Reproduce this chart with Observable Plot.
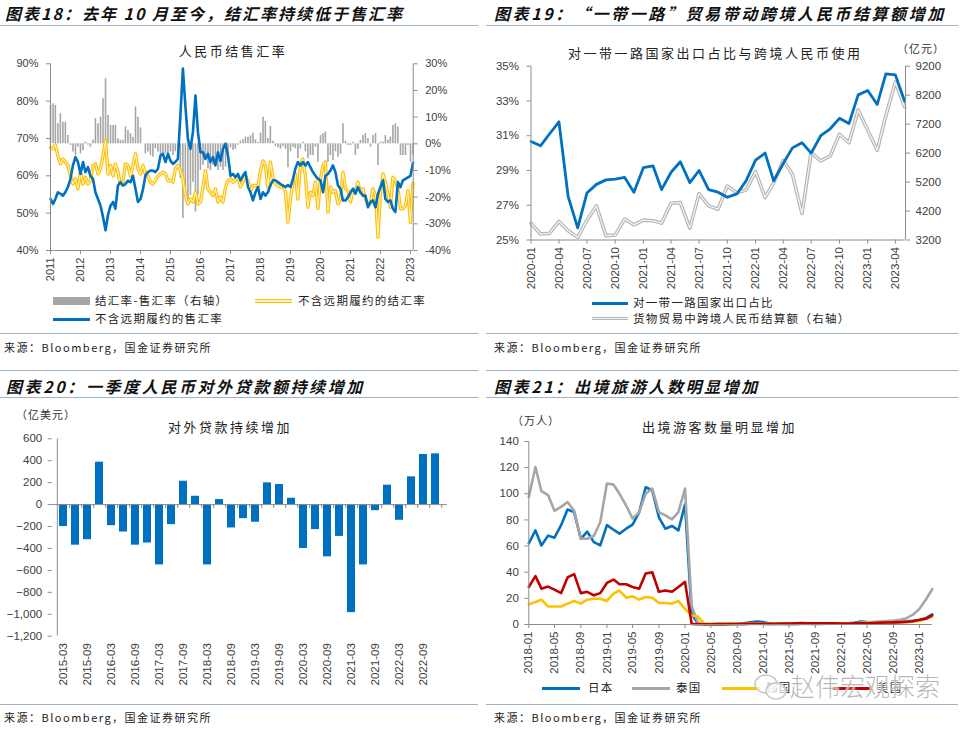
<!DOCTYPE html>
<html><head><meta charset="utf-8">
<script src="https://cdn.jsdelivr.net/npm/d3@7"></script>
<script src="https://cdn.jsdelivr.net/npm/@observablehq/plot@0.6"></script>
<style>
body{margin:0;background:#fff;width:960px;height:729px;position:relative;overflow:hidden;font-family:"Noto Sans CJK SC",sans-serif;color:#222}
.abs{position:absolute;white-space:nowrap;line-height:1}
.sec{font-weight:bold;font-style:italic;font-size:16px;letter-spacing:2.6px;color:#111}
.rule{position:absolute;height:0;border-top:1.5px solid #9db3c9}
.src{font-size:11px;letter-spacing:1.5px;color:#222}
.ct{font-size:13px;letter-spacing:2.5px;color:#222}
.leg{font-size:11.5px;letter-spacing:1.3px;color:#222}
.unit{font-size:11px;letter-spacing:1px;color:#333}
.plot{position:absolute}
</style></head><body>
<div id="p1" class="plot" style="left:0;top:0"></div>
<div id="p2" class="plot" style="left:480px;top:0"></div>
<div id="p3" class="plot" style="left:0;top:365px"></div>
<div id="p4" class="plot" style="left:480px;top:365px"></div>

<!-- panel 1 text -->
<div class="abs sec" style="left:5px;top:5px;letter-spacing:2px">图表18：去年 10 月至今，结汇率持续低于售汇率</div>
<div class="rule" style="left:0;top:25px;width:478px"></div>
<div class="abs ct" style="left:233px;top:44px;transform:translateX(-50%)">人民币结售汇率</div>
<div class="abs" style="left:53px;top:297px;width:37px;height:8px;background:#a6a6a6"></div>
<div class="abs leg" style="left:95px;top:295px">结汇率-售汇率（右轴）</div>
<div class="abs" style="left:255px;top:299px;width:37px;height:1.5px;background:#FFF1BF;border-top:1.5px solid #FFC000;border-bottom:1.5px solid #FFC000"></div>
<div class="abs leg" style="left:298px;top:295px">不含远期履约的结汇率</div>
<div class="abs" style="left:53px;top:318px;width:37px;height:2.6px;background:#0070C0"></div>
<div class="abs leg" style="left:95px;top:313px">不含远期履约的售汇率</div>
<div class="rule" style="left:0;top:333px;width:478px"></div>
<div class="abs src" style="left:4px;top:342px">来源：Bloomberg，国金证券研究所</div>

<!-- panel 2 text -->
<div class="abs sec" style="left:494px;top:5px">图表19：“一带一路”贸易带动跨境人民币结算额增加</div>
<div class="rule" style="left:486px;top:25px;width:472px"></div>
<div class="abs ct" style="left:568px;top:46px">对一带一路国家出口占比与跨境人民币使用</div>
<div class="abs unit" style="left:897px;top:43px">（亿元）</div>
<div class="abs" style="left:592px;top:302px;width:36px;height:2.6px;background:#0070C0"></div>
<div class="abs leg" style="left:633px;top:297px">对一带一路国家出口占比</div>
<div class="abs" style="left:592px;top:317px;width:36px;height:1.4px;background:#f4f4f4;border-top:1.5px solid #b5b5b5;border-bottom:1.5px solid #b5b5b5"></div>
<div class="abs leg" style="left:633px;top:313px">货物贸易中跨境人民币结算额（右轴）</div>
<div class="rule" style="left:486px;top:333px;width:472px"></div>
<div class="abs src" style="left:494px;top:342px">来源：Bloomberg，国金证券研究所</div>

<!-- panel 3 text -->
<div class="rule" style="left:0;top:370px;width:478px"></div>
<div class="abs sec" style="left:6px;top:378px">图表20：一季度人民币对外贷款额持续增加</div>
<div class="rule" style="left:0;top:397px;width:478px"></div>
<div class="abs unit" style="left:16px;top:409px">（亿美元）</div>
<div class="abs ct" style="left:230px;top:420px;transform:translateX(-50%)">对外贷款持续增加</div>
<div class="rule" style="left:0;top:704px;width:478px"></div>
<div class="abs src" style="left:4px;top:712px">来源：Bloomberg，国金证券研究所</div>

<!-- panel 4 text -->
<div class="rule" style="left:486px;top:370px;width:472px"></div>
<div class="abs sec" style="left:494px;top:378px">图表21：出境旅游人数明显增加</div>
<div class="rule" style="left:486px;top:397px;width:472px"></div>
<div class="abs unit" style="left:512px;top:415px">（万人）</div>
<div class="abs ct" style="left:642px;top:420px">出境游客数量明显增加</div>
<div class="abs" style="left:542px;top:687px;width:38px;height:2.6px;background:#0070C0"></div>
<div class="abs leg" style="left:588px;top:682px">日本</div>
<div class="abs" style="left:632px;top:687px;width:38px;height:2.6px;background:#A6A6A6"></div>
<div class="abs leg" style="left:676px;top:682px">泰国</div>
<div class="abs" style="left:722px;top:687px;width:38px;height:2.6px;background:#FFC000"></div>
<div class="abs leg" style="left:766px;top:682px">韩国</div>
<div class="abs" style="left:833px;top:687px;width:38px;height:2.6px;background:#C00000"></div>
<div class="abs leg" style="left:877px;top:682px">美国</div>
<svg class="abs" style="left:752px;top:672px" width="40" height="32"><ellipse cx="14" cy="12" rx="11" ry="9" fill="rgba(255,255,255,0.7)" stroke="#c8c8c8" stroke-width="1.5"/><ellipse cx="24" cy="19" rx="10" ry="8" fill="rgba(255,255,255,0.7)" stroke="#c8c8c8" stroke-width="1.5"/></svg>
<div class="abs" style="left:790px;top:673px;font-size:25px;font-weight:300;color:rgba(160,160,160,0.75);text-shadow:0 0 2px #fff,0 0 2px #fff;letter-spacing:0px">赵伟宏观探索</div>
<div class="rule" style="left:486px;top:704px;width:472px"></div>
<div class="abs src" style="left:494px;top:712px">来源：Bloomberg，国金证券研究所</div>

<script>
// ---------- Panel 1 data: monthly 2011-01 .. 2023-02 ----------
const buyRate = [ // 不含远期履约的结汇率 (%)
67.5,67.2,68.3,65.4,63.2,64.5,63.7,62.8,60,57.8,59.2,56.5,
61,57.8,59.6,57.8,58.7,62.8,63.2,60.5,61.9,65.4,69.5,60.5,
62.8,60,63.2,61,57.8,58.3,63.2,62.8,60,62.8,65.9,61.9,
60.5,62.8,60.5,60,58.3,57.8,58.7,60,60.5,61,60.5,58.7,
58.8,58.3,61.9,62.8,61.4,59.2,54.7,52.5,53.8,53,55.6,52.5,
53,57,61.4,56.5,55.6,54.7,56.5,53,54.3,53,57,58.7,
59.2,58.3,58.7,60,57,58.3,60,58.7,56,57.4,57.4,57,
61.4,64,62.8,57,63.7,59.6,57.8,57.4,57,57.4,55.6,47.6,
54,58.3,60.5,53.8,62.8,64.5,60,51.6,55.6,54.7,58.3,51.2,
59.2,62.8,63.7,50.3,57,55.6,56,52.5,53.8,61,56.5,56,
53,56.5,55.6,58.3,55.6,56.5,53.8,52.5,52.5,56.5,54.7,43.6,
55.6,60.5,58.3,55.2,51.6,59.6,58.8,56.5,51.2,51.2,52,56,
47.5,58];
const sellRate = [ // 不含远期履约的售汇率 (%)
53.8,52.5,53.8,55.6,55.2,54.7,55.6,57,59.2,62.8,65,63.7,
60.5,63.7,61,62.3,60,59.2,55.6,53.8,52,49,45.4,49.5,
52,53,51.2,57.4,58.3,57.4,57.8,58.7,58.3,60,56.5,53,
53.8,56.5,60,61,61.4,61.4,61,61.9,65.4,65.9,63.7,65.9,
64,63.2,63.7,64.5,76,88.7,78.8,69.9,67.2,71.7,81.5,71.7,
66.3,66.3,64.5,65.9,63.7,65,62.8,66.3,64,67.2,68.6,65.4,
60,60.5,59.6,60.5,58.8,60,61,57,55.6,53.4,55.6,57,
53.8,55.6,54.7,55.6,57.4,58.8,58.8,58.3,57.8,57.4,57,57.5,
57,59.2,61.9,63.7,62.8,63.7,62.8,63.7,62.3,61,60,59.2,
58.8,55.6,60,60.5,61.4,62.8,61,57.4,56.5,53.4,53.4,54.3,
55.6,56.5,55.2,57,55.6,54.7,54.7,51.6,53,53.4,51.6,55.2,
57,58.8,53.8,53,53.4,51.2,50.3,58.3,57,58.8,59.2,59.6,
60,63.5];
const diffRate = [ // 结汇率-售汇率 (右轴, %)
14.4,15,14.4,7.5,11.3,8.1,8.1,3.1,-0.6,-3.1,-4.4,-1.3,
-3.8,-2.5,0.6,-0.5,-1.3,1.3,9.4,7.5,10,16.9,24.4,10.6,
6.9,6.9,6.9,1.9,1.3,1.3,6.3,5,3.8,2.5,13.8,10,
6,0,-3.8,-3.1,-4.4,-5,-1.9,-3.1,-4,-4,-3.8,-4.4,
-3.1,-4.4,-3,-1.3,-13,-28,-19.4,-23,-19.4,-14.4,-25.6,-19.4,
-10,-8,-4.4,-9.4,-10,-8,-8,-10,-8.8,-10,-8.8,-5.5,
-1.5,-2.5,-2,-0.5,1,1.5,2.5,2.5,3,4,1.5,0.5,
4,10,8.5,2,6.5,1,-1,-1.5,-2,-1,-2,-9,
-3,-1.3,-1.9,-5.6,-2,0.6,-3,-5.6,-4.4,-4.4,-1.3,-6.9,
3.1,3.8,4.4,-6.9,-4.4,-6.3,-3,-5,-3.8,7.5,1,-0.6,
-0.6,0.6,-4.4,-2,1.3,3.1,3.8,2,-1.3,3.1,3.8,-8.1,
0.6,0.6,3.1,1.3,2.5,6.9,7.5,6.3,-4.4,-4.4,-4.4,-0.6,
-6.9,-4.4];
const p1LeftTicks = [40,50,60,70,80,90];
const p1RightTicks = [-40,-30,-20,-10,0,10,20,30];
const p1YearTicks = [2011,2012,2013,2014,2015,2016,2017,2018,2019,2020,2021,2022,2023];

// ---------- Panel 2 data: monthly 2020-01 .. 2023-05 ----------
const briShare = [30.67,30.42,31.1,31.8,27.5,25.7,27.7,28.2,28.46,28.5,28.6,27.75,
29.17,29.27,27.9,28.9,29.5,28.3,29.0,27.9,27.75,27.46,27.65,28.4,
29.6,30.0,28.4,29.4,30.3,30.6,30.0,31.0,31.4,32.0,31.7,33.35,
33.6,32.8,34.56,34.5,33.0];
const rmbSettle = [3771,3406,3430,3840,3520,3290,3886,4377,3350,3370,3920,3725,
3886,3863,3783,4470,4490,3610,4800,4377,4263,5063,4834,4926,
5558,4663,5180,5950,5466,4114,6217,5930,6100,6850,6560,7685,
6990,6300,7490,8650,7800];
const p2LeftTicks = [25,27,29,31,33,35];
const p2RightTicks = [3200,4200,5200,6200,7200,8200,9200];

// ---------- Panel 3 data: quarterly ----------
const loanQuarters = ["2015-03","2015-06","2015-09","2015-12","2016-03","2016-06","2016-09","2016-12",
"2017-03","2017-06","2017-09","2017-12","2018-03","2018-06","2018-09","2018-12",
"2019-03","2019-06","2019-09","2019-12","2020-03","2020-06","2020-09","2020-12",
"2021-03","2021-06","2021-09","2021-12","2022-03","2022-06","2022-09","2022-12"];
const loanValues = [-200,-370,-320,387,-192,-250,-370,-350,-550,-183,213,76,-550,46,-213,-128,
-161,198,183,58,-400,-228,-476,-290,-985,-550,-55,177,-143,253,457,463];
const p3Ticks = [-1200,-1000,-800,-600,-400,-200,0,200,400,600];

// ---------- Panel 4 data: monthly 2018-01 .. 2023-03 ----------
const japan = [62,72,60.5,68,66.4,76,88,86,65.6,71,63,60.5,
76,72.5,69.5,73.3,76.4,86,105,102.7,82,73.3,75.4,72,
92,8,1,
0.2,0.2,0.3,0.4,0.4,0.6,0.9,1.6,2.2,
1.8,0.7,0.5,0.6,0.5,0.5,0.7,0.6,0.5,0.6,0.7,0.8,
0.8,1,1.3,2.3,1.8,1.5,1.4,1.6,1.8,2,2.4,2.8,
3.2,5,7.8];
const thailand = [97.6,120.5,102,99,87,90,93.7,87,65.6,65.6,67.7,78.4,
107.8,107,100,91,81,86,100,104,86,83.5,80.5,86,
104,14,1.5,
0.2,0.2,0.2,0.2,0.2,0.3,0.3,0.4,0.5,
0.5,0.4,0.4,0.4,0.3,0.3,0.4,0.4,0.5,0.5,0.6,0.7,
0.8,0.9,1,1.3,1.6,2,2.3,2.6,3,3.6,4.8,7.5,
12,19.5,27];
const korea = [15.4,17.2,19,13.8,13.8,13.8,16,18,16,19,19.7,19.7,
18,23.6,26,20.5,21.5,19,21,20.5,16.4,16.4,16,18,
12,7,6,
0.5,0.5,0.4,0.5,0.5,0.6,0.6,0.7,0.7,
0.6,0.5,0.6,0.7,0.6,0.7,0.8,0.7,0.7,0.8,0.8,0.9,
0.9,0.9,1,1.1,1.2,1.3,1.4,1.5,1.6,1.8,2,2.3,
2.8,4.5,6];
const usa = [28.7,37,27.4,29,26.7,24,36,38.5,24,25,22.3,24,
31.8,34.4,30.8,30.8,28.7,27.4,39,40,25,26,25,28.7,
32.6,0.5,0.3,
0.2,0.2,0.3,0.3,0.4,0.4,0.5,0.6,0.6,
0.6,0.5,0.6,0.7,0.8,0.9,1.1,1,0.9,0.9,0.9,1,
0.8,0.7,0.9,1,1,1.2,1.4,1.5,1.6,1.8,2,2.5,
3.6,4.5,7];
const p4Ticks = [0,20,40,60,80,100,120,140];

// ---------- drawing ----------
const axisColor = "#8c8c8c";
const txtColor = "#404040";
const style = {fontFamily:'"Liberation Sans", Arial, sans-serif', fontSize:"11px", color:txtColor, background:"transparent", overflow:"visible"};
const U = (y,m,d=1)=>new Date(Date.UTC(y,m,d));

// Panel 1
{
  const dates = d3.utcMonths(U(2011,0), U(2023,2));
  const data = dates.map((d,i)=>({date:d, buy:buyRate[i], sell:sellRate[i], diff:diffRate[i]}));
  const r2l = d3.scaleLinear([-40,30],[40,90]);
  const xDom = [U(2011,0), U(2023,1,3)];
  const chart = Plot.plot({
    width:480, height:300, marginLeft:50, marginRight:67.3, marginTop:63.3, marginBottom:50,
    x:{type:"utc", domain:xDom}, y:{domain:[40,90]}, style,
    marks:[
      Plot.ruleX(data, {x:"date", y1:()=>r2l(0), y2:d=>r2l(d.diff), stroke:"#a6a6a6", strokeWidth:1.6}),
      Plot.lineY(data, {x:"date", y:"buy", stroke:"#FFC000", strokeWidth:3.4}),
      Plot.lineY(data, {x:"date", y:"buy", stroke:"#FFF1BF", strokeWidth:1.1}),
      Plot.lineY(data, {x:"date", y:"sell", stroke:"#0070C0", strokeWidth:2.6}),
      Plot.ruleX([xDom[0]], {stroke:axisColor}),
      Plot.ruleX([xDom[1]], {stroke:axisColor}),
      Plot.ruleY([40], {stroke:axisColor}),
      Plot.axisY({anchor:"left", ticks:p1LeftTicks, tickFormat:d=>d+"%", tickSize:4, tickPadding:8, label:null, stroke:axisColor, fill:txtColor}),
      Plot.axisY({anchor:"right", ticks:p1RightTicks.map(r2l), tickFormat:d=>Math.round(r2l.invert(d))+"%", tickSize:4, tickPadding:8, label:null, stroke:axisColor, fill:txtColor}),
      Plot.axisX({ticks:p1YearTicks.map(y=>U(y,0)), tickFormat:d3.utcFormat("%Y"), tickRotate:-90, tickSize:4, tickPadding:3, label:null, stroke:axisColor, fill:txtColor})
    ]
  });
  document.getElementById("p1").append(chart);
}

// Panel 2
{
  const dates = d3.utcMonths(U(2020,0), U(2023,5));
  const data = dates.map((d,i)=>({date:d, share:briShare[i], settle:rmbSettle[i]}));
  const r2l = d3.scaleLinear([3200,9200],[25,35]);
  const xDom = [U(2020,0), U(2023,4,4)];
  const qTicks = d3.utcMonths(U(2020,0), U(2023,4), 3);
  const chart = Plot.plot({
    width:480, height:300, marginLeft:50.5, marginRight:55, marginTop:65.7, marginBottom:60.5,
    x:{type:"utc", domain:xDom}, y:{domain:[25,35]}, style,
    marks:[
      Plot.lineY(data, {x:"date", y:d=>r2l(d.settle), stroke:"#b5b5b5", strokeWidth:3.6}),
      Plot.lineY(data, {x:"date", y:d=>r2l(d.settle), stroke:"#f4f4f4", strokeWidth:1.3}),
      Plot.lineY(data, {x:"date", y:"share", stroke:"#0070C0", strokeWidth:2.8}),
      Plot.ruleX([xDom[0]], {stroke:axisColor}),
      Plot.ruleX([xDom[1]], {stroke:axisColor}),
      Plot.ruleY([25], {stroke:axisColor}),
      Plot.axisY({anchor:"left", ticks:p2LeftTicks, tickFormat:d=>d+"%", tickSize:4, tickPadding:8, label:null, stroke:axisColor, fill:txtColor, fontSize:11.5}),
      Plot.axisY({anchor:"right", ticks:p2RightTicks.map(r2l), tickFormat:d=>String(Math.round(r2l.invert(d))), tickSize:4, tickPadding:6, label:null, stroke:axisColor, fill:txtColor, fontSize:11.5}),
      Plot.axisX({ticks:qTicks, tickFormat:d3.utcFormat("%Y-%m"), tickRotate:-90, tickSize:4, tickPadding:3, label:null, stroke:axisColor, fill:txtColor, fontSize:11.5})
    ]
  });
  document.getElementById("p2").append(chart);
}

// Panel 3
{
  const data = loanQuarters.map((q,i)=>({q, v:loanValues[i]}));
  const step = (480-51.7-33.3)/loanQuarters.length;
  const chart = Plot.plot({
    width:480, height:330, marginLeft:51.7, marginRight:33.3, marginTop:73.3, marginBottom:59.3,
    x:{type:"band", domain:loanQuarters, paddingInner:0.33, paddingOuter:0.165},
    y:{domain:[-1200,600]}, style,
    marks:[
      Plot.barY(data, {x:"q", y:"v", fill:"#0070C0"}),
      Plot.ruleY([0], {stroke:axisColor}),
      Plot.ruleX(loanQuarters, {x:d=>d, y1:()=>0, y2:()=>-36, dx:step/2, stroke:axisColor}),
      Plot.ruleX(loanQuarters.slice(0,1), {x:d=>d, y1:()=>-1200, y2:()=>600, dx:-step/2, stroke:axisColor}),
      Plot.axisY({anchor:"left", ticks:p3Ticks, tickSize:4, tickPadding:6, label:null, stroke:axisColor, fill:txtColor, fontSize:11.5}),
      Plot.axisX({ticks:loanQuarters.filter((d,i)=>i%2===0), tickRotate:-90, tickSize:0, tickPadding:7, label:null, fill:txtColor, fontSize:11.5})
    ]
  });
  document.getElementById("p3").append(chart);
}

// Panel 4
{
  const dates = d3.utcMonths(U(2018,0), U(2023,3));
  const series = [["日本",japan,"#0070C0"],["泰国",thailand,"#A6A6A6"],["韩国",korea,"#FFC000"],["美国",usa,"#C00000"]];
  const xDom = [U(2018,0), U(2023,2)];
  const tTicks = d3.utcMonths(U(2018,0), U(2023,2), 4);
  const marks = series.map(([name,vals,color])=>
    Plot.lineY(dates.map((d,i)=>({date:d, v:vals[i]})), {x:"date", y:"v", stroke:color, strokeWidth:2.6}));
  const chart = Plot.plot({
    width:480, height:330, marginLeft:48.3, marginRight:28.3, marginTop:76, marginBottom:71,
    x:{type:"utc", domain:xDom}, y:{domain:[0,140]}, style,
    marks:[
      ...marks,
      Plot.ruleX([xDom[0]], {stroke:axisColor}),
      Plot.ruleY([0], {stroke:axisColor}),
      Plot.axisY({anchor:"left", ticks:p4Ticks, tickSize:4, tickPadding:6, label:null, stroke:axisColor, fill:txtColor, fontSize:11.5}),
      Plot.axisX({ticks:tTicks, tickFormat:d3.utcFormat("%Y-%m"), tickRotate:-90, tickSize:4, tickPadding:3, label:null, stroke:axisColor, fill:txtColor, fontSize:11.5})
    ]
  });
  document.getElementById("p4").append(chart);
}
</script>
</body></html>
